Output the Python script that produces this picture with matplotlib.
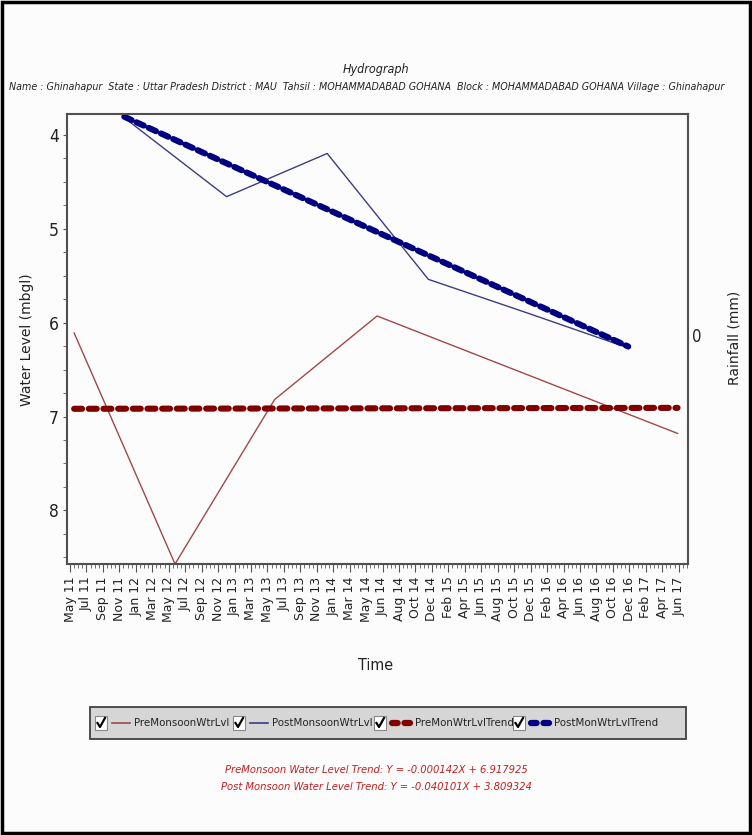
import matplotlib
matplotlib.use('Agg')
import matplotlib.pyplot as plt
import matplotlib.dates as mdates
import numpy as np
from matplotlib import font_manager
from matplotlib.patches import Rectangle
from matplotlib.lines import Line2D

# water level readings (mbgl)
pre_dates = ['2011-06-01', '2012-06-03', '2013-06-01', '2014-06-10', '2017-06-10']
pre_level = [6.11, 8.57, 6.82, 5.93, 7.18]
post_dates = ['2011-12-01', '2012-12-08', '2013-12-10', '2014-12-14', '2015-12-12', '2016-12-12']
post_level = [3.82, 4.66, 4.20, 5.54, 5.90, 6.27]

# trend lines (end points)
pre_trend_dates = ['2011-06-01', '2017-06-10']
pre_trend_level = [6.918, 6.908]
post_trend_dates = ['2011-12-01', '2016-12-12']
post_trend_level = [3.809, 6.255]

tick_labels = ['May 11', 'Jul 11', 'Sep 11', 'Nov 11', 'Jan 12', 'Mar 12', 'May 12', 'Jul 12',
               'Sep 12', 'Nov 12', 'Jan 13', 'Mar 13', 'May 13', 'Jul 13', 'Sep 13', 'Nov 13',
               'Jan 14', 'Mar 14', 'May 14', 'Jun 14', 'Aug 14', 'Oct 14', 'Dec 14', 'Feb 15',
               'Apr 15', 'Jun 15', 'Aug 15', 'Oct 15', 'Dec 15', 'Feb 16', 'Apr 16', 'Jun 16',
               'Aug 16', 'Oct 16', 'Dec 16', 'Feb 17', 'Apr 17', 'Jun 17']
first_tick = '2011-05-17'
last_tick = '2017-06-14'

legend_names = ['PreMonsoonWtrLvl', 'PostMonsoonWtrLvl', 'PreMonWtrLvlTrend', 'PostMonWtrLvlTrend']
trend_lines = ['PreMonsoon Water Level Trend: Y = -0.000142X + 6.917925',
               'Post Monsoon Water Level Trend: Y = -0.040101X + 3.809324']

title = 'Hydrograph'
subtitle = ('Name : Ghinahapur  State : Uttar Pradesh District : MAU  Tahsil : MOHAMMADABAD GOHANA  '
            'Block : MOHAMMADABAD GOHANA Village : Ghinahapur')

# narrow font if there is one
has_cond = any('Condensed' in f.fname and 'DejaVuSans' in f.fname
               for f in font_manager.fontManager.ttflist)
if has_cond:
    NARROW = dict(family='DejaVu Sans', stretch='condensed')
else:
    NARROW = dict(family='Liberation Sans')
WIDE = dict(family='DejaVu Sans')

W, H = 752, 835
fig = plt.figure(figsize=(W / 100, H / 100), dpi=100, facecolor='#fcfcfc')


def px(x, y):
    return (x / W, 1 - y / H)


ax = fig.add_axes([67 / W, 1 - 564 / H, (688 - 67) / W, (564 - 114) / H])
ax.set_facecolor('#fcfcfc')

c_pre = '#a04848'
c_post = '#3c3c82'
c_pre_t = '#800000'
c_post_t = '#000080'

d = mdates.datestr2num
ax.plot(d(pre_dates), pre_level, color=c_pre, lw=1.0)
ax.plot(d(post_dates), post_level, color=c_post, lw=1.0)
ax.plot(d(pre_trend_dates), pre_trend_level, color=c_pre_t, lw=4.4,
        dashes=(1.3, 1.1), dash_capstyle='round')
ax.plot(d(post_trend_dates), post_trend_level, color=c_post_t, lw=4.4,
        dashes=(1.3, 0.9), dash_capstyle='round')

t0, t1 = d(first_tick), d(last_tick)
ticks = np.linspace(t0, t1, len(tick_labels))
step = ticks[1] - ticks[0]
ax.set_xticks(ticks)
ax.set_xticklabels(tick_labels, rotation=90, fontsize=9, color='#222222', **WIDE)
ax.set_xticks(np.arange(t0 - step, t1 + step, step / 4), minor=True)
ax.set_xlim(t0 - 11, t0 + 2254)

ax.set_ylim(8.57, 3.78)
ax.set_yticks([4, 5, 6, 7, 8])
ax.set_yticks(np.arange(4, 8.6, 0.25), minor=True)
ax.set_yticklabels(['4', '5', '6', '7', '8'], fontsize=12.5, color='#222222', **NARROW)
ax.tick_params(axis='y', which='both', length=3, color='#555555', pad=3)
ax.tick_params(axis='x', which='major', length=6, color='#555555', pad=3)
ax.tick_params(axis='x', which='minor', length=3, color='#555555')

for s in ax.spines.values():
    s.set_color('#505050')
    s.set_linewidth(1.5)

fig.text(*px(376, 666), 'Time', ha='center', va='center', fontsize=11.5, color='#222222', **NARROW)
fig.text(*px(27, 340), 'Water Level (mbgl)', rotation=90, ha='center', va='center',
         fontsize=10, color='#222222', **WIDE)

# secondary rainfall axis
fig.text(*px(692, 337), '0', ha='left', va='center', fontsize=12, color='#222222', **NARROW)
fig.text(*px(735, 338), 'Rainfall (mm)', rotation=90, ha='center', va='center',
         fontsize=10, color='#222222', **WIDE)

fig.text(*px(376, 70), title, ha='center', va='center', fontsize=9, style='italic',
         color='#222222', **NARROW)
fig.text(*px(9, 87), subtitle, ha='left', va='center', fontsize=7.65, style='italic',
         color='#222222', **NARROW)

# legend strip
lx0, ly0, lx1, ly1 = 90, 707, 686, 739
fig.patches.append(Rectangle(px(lx0, ly1), (lx1 - lx0) / W, (ly1 - ly0) / H,
                             transform=fig.transFigure, facecolor='#d6d6d6',
                             edgecolor='#404040', lw=1.3))
items = [(95, c_pre, 'solid'), (233, c_post, 'solid'), (374, c_pre_t, 'dot'), (513, c_post_t, 'dot')]
ym = 723
for (x, col, kind), name in zip(items, legend_names):
    fig.patches.append(Rectangle(px(x, ym + 7), 12 / W, 14 / H, transform=fig.transFigure,
                                 facecolor='white', edgecolor='#888888', lw=0.8))
    fig.lines.append(Line2D([(x + 2.5) / W, (x + 5) / W, (x + 10) / W],
                            [1 - (ym) / H, 1 - (ym + 4) / H, 1 - (ym - 5) / H],
                            transform=fig.transFigure, color='black', lw=1.6))
    if kind == 'solid':
        fig.lines.append(Line2D([(x + 17) / W, (x + 35) / W], [1 - ym / H] * 2,
                                transform=fig.transFigure, color=col, lw=1.2))
        tx = x + 39
    else:
        fig.lines.append(Line2D([(x + 18) / W, (x + 36) / W], [1 - ym / H] * 2,
                                transform=fig.transFigure, color=col, lw=4.5,
                                dashes=(0.9, 1.1), dash_capstyle='round'))
        tx = x + 41
    fig.text(tx / W, 1 - ym / H, name, ha='left', va='center', fontsize=8.2,
             color='#222222', **NARROW)

fig.text(*px(376, 770), trend_lines[0], ha='center', va='center', fontsize=8,
         style='italic', color='#c02020', **NARROW)
fig.text(*px(376, 787), trend_lines[1], ha='center', va='center', fontsize=8,
         style='italic', color='#c02020', **NARROW)

fig.patches.append(Rectangle((0.002, 0.002), 0.996, 0.996, transform=fig.transFigure,
                             facecolor='none', edgecolor='black', lw=2.5))

fig.savefig('out.png', dpi=100, facecolor=fig.get_facecolor())
